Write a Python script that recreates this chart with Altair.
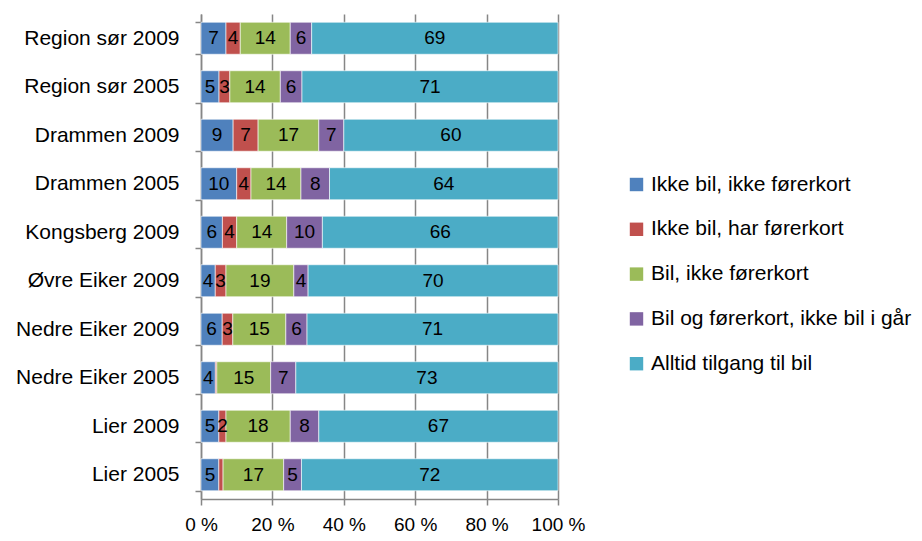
import altair as alt
import pandas as pd

categories = ["Region sør 2009", "Region sør 2005", "Drammen 2009", "Drammen 2005",
              "Kongsberg 2009", "Øvre Eiker 2009", "Nedre Eiker 2009", "Nedre Eiker 2005",
              "Lier 2009", "Lier 2005"]
series = ["Ikke bil, ikke førerkort", "Ikke bil, har førerkort", "Bil, ikke førerkort",
          "Bil og førerkort, ikke bil i går", "Alltid tilgang til bil"]
ikke_bil_ikke_forerkort = [7, 5, 9, 10, 6, 4, 6, 4, 5, 5]
ikke_bil_har_forerkort = [4, 3, 7, 4, 4, 3, 3, 0.4, 2, 1.2]
bil_ikke_forerkort = [14, 14, 17, 14, 14, 19, 15, 15, 18, 17]
bil_og_forerkort = [6, 6, 7, 8, 10, 4, 6, 7, 8, 5]
alltid_tilgang = [69, 71, 60, 64, 66, 70, 71, 73, 67, 72]
colors = ["#4F81BD", "#C0504D", "#9BBB59", "#8064A2", "#4BACC6"]

all_vals = [ikke_bil_ikke_forerkort, ikke_bil_har_forerkort, bil_ikke_forerkort,
            bil_og_forerkort, alltid_tilgang]
rows = []
for si, (s, vals) in enumerate(zip(series, all_vals)):
    for c, v in zip(categories, vals):
        rows.append({"cat": c, "series": s, "order": si, "value": v,
                     "label": str(int(round(v))) if v >= 1.5 else ""})
df = pd.DataFrame(rows)

FONT = "Liberation Sans"

base = alt.Chart(df).transform_stack(
    stack="value", as_=["x0", "x1"], groupby=["cat"],
    sort=[alt.SortField("order", "ascending")], offset="normalize"
)

y_enc = alt.Y("cat:N", sort=categories, title=None,
              scale=alt.Scale(paddingInner=0.34, paddingOuter=0.17),
              axis=alt.Axis(labelFontSize=21, labelFont=FONT, labelColor="#000000",
                            tickBand="extent", tickSize=6, tickColor="#868686",
                            domainColor="#868686", domainWidth=1.5, tickWidth=1.5,
                            labelPadding=16))

bars = base.mark_bar(stroke="white", strokeWidth=0.6).encode(
    x=alt.X("x0:Q", scale=alt.Scale(domain=[0, 1]), title=None,
            axis=alt.Axis(values=[0, 0.2, 0.4, 0.6, 0.8, 1.0],
                          labelExpr="round(datum.value*100) + ' %'",
                          labelFontSize=19, labelFont=FONT, labelColor="#000000",
                          labelOverlap=False, labelFlush=False,
                          grid=True, gridColor="#868686", gridWidth=1.5,
                          domainColor="#868686", domainWidth=1.5,
                          tickColor="#868686", tickWidth=1.5, tickSize=6,
                          labelPadding=10)),
    x2="x1:Q",
    y=y_enc,
    color=alt.Color("series:N", sort=series,
                    scale=alt.Scale(domain=series, range=colors),
                    legend=alt.Legend(title=None, orient="none", legendX=425, legendY=160,
                                      labelFontSize=21, labelFont=FONT, labelColor="#000000",
                                      symbolType="square", symbolSize=180,
                                      symbolStrokeWidth=0, rowPadding=22.8,
                                      labelOffset=4, labelLimit=400)),
)

text = base.transform_calculate(mid="(datum.x0 + datum.x1) / 2").mark_text(
    fontSize=19, font=FONT, color="#000000"
).encode(
    x="mid:Q",
    y=alt.Y("cat:N", sort=categories),
    text="label:N",
)

chart = alt.layer(bars, text).properties(
    width=357, height=485,
    autosize=alt.AutoSizeParams(type="none"),
    padding={"left": 193, "top": 6, "right": 356, "bottom": 34},
).configure_view(stroke=None).configure_axis(gridOpacity=1)

chart.save("out.html", embed_options={"renderer": "svg", "actions": False})
